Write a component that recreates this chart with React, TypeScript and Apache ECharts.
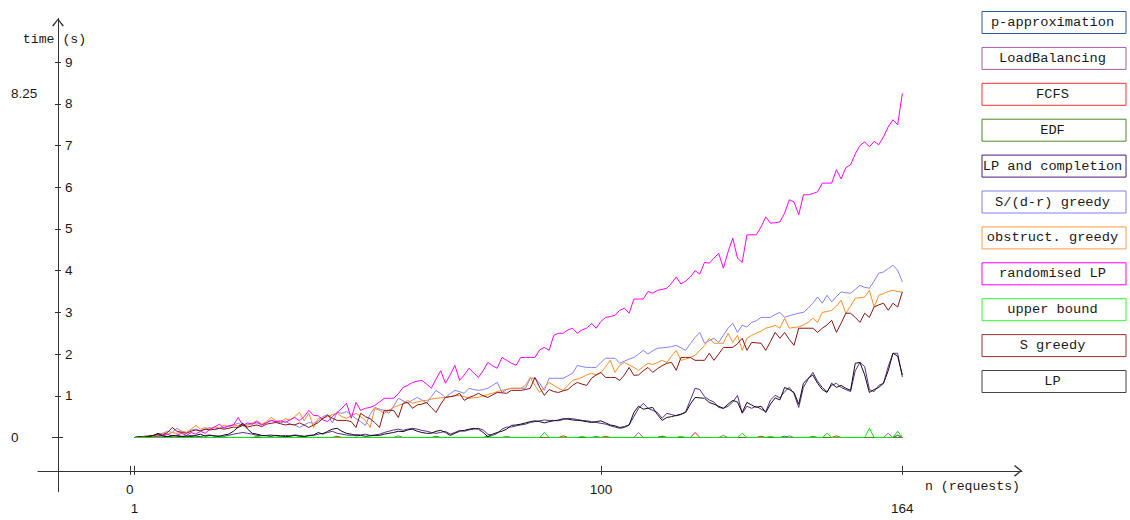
import React, { useEffect, useRef } from "react";
import * as echarts from "echarts";

// ---------- data ----------
const requestCounts: number[] = Array.from({ length: 164 }, (_, i) => i + 1);

const seriesNames = [
  "p-approximation",
  "LoadBalancing",
  "FCFS",
  "EDF",
  "LP and completion",
  "S/(d-r) greedy",
  "obstruct. greedy",
  "randomised LP",
  "upper bound",
  "S greedy",
  "LP",
];

const lineColors = [
  "#2A5C94",
  "#A65C9E",
  "#FF2020",
  "#4A8A20",
  "#5A2A96",
  "#8080FF",
  "#FF8C20",
  "#FF00FF",
  "#00EE00",
  "#8C1414",
  "#111111",
];

const legendBorderColors = [
  "#2A5C94",
  "#A65C9E",
  "#FF3030",
  "#4A8A20",
  "#4B1C80",
  "#8080FF",
  "#FF9A40",
  "#FF00FF",
  "#30FF30",
  "#9C3030",
  "#444444",
];

// drawing order (z) of each series; upper bound sits on top along the zero line
const seriesZ = [2, 2.01, 2.02, 2.03, 2.04, 2.05, 2.06, 2.07, 2.2, 2.09, 2.1];

const xTickValues = [0, 1, 100, 164];
const xLabelRow1 = [0, 100];
const xLabelRow2 = [1, 164];
const yTickValues = [1, 2, 3, 4, 5, 6, 7, 8, 9];
const yZeroTick = [0];
const yOuterLabels = [0, 8.25];

const pApproximation = [
  0,0,0,0,0,0,0,0,0,0,
  0,0,0,0,0,0,0,0,0,0,
  0,0,0,0,0,0,0,0,0,0,
  0,0,0,0,0,0,0,0,0,0,
  0,0,0,0,0,0,0,0,0,0,
  0,0,0,0,0,0,0,0,0,0,
  0,0,0,0,0,0,0,0,0,0,
  0,0,0,0,0,0.03,0,0,0,0,
  0,0,0,0,0,0,0,0,0,0,
  0,0,0,0,0,0,0,0,0.02,0,
  0,0,0,0,0,0,0,0,0,0,
  0,0,0.03,0,0,0,0,0,0,0,
  0,0,0,0,0,0,0,0,0,0,
  0,0,0,0,0,0,0,0,0.03,0,
  0,0,0,0,0,0,0,0,0,0,
  0,0,0,0,0,0,0,0,0,0,
  0,0,0.05,0,
];

const loadBalancing = [
  0,0,0,0,0,0,0,0,0,0,
  0,0,0,0,0,0,0,0,0,0,
  0,0,0,0,0,0,0,0,0,0,
  0,0,0,0,0,0,0,0,0,0,
  0,0,0,0,0,0,0,0,0,0,
  0,0,0,0,0,0,0.04,0,0,0,
  0,0,0,0,0,0,0,0,0,0,
  0,0,0,0,0,0,0,0,0,0.03,
  0,0,0,0,0,0,0,0,0,0,
  0,0,0,0,0,0,0,0,0,0,
  0,0,0,0,0,0,0,0.12,0,0,
  0,0,0,0,0,0,0,0,0,0,
  0,0,0,0,0,0.05,0,0,0,0,
  0,0,0,0,0,0,0,0,0,0.04,
  0,0,0,0,0,0,0,0,0,0,
  0,0,0,0,0,0,0,0,0,0,
  0.1,0,0.06,0,
];

const fcfs = [
  0,0,0,0,0,0,0,0,0,0,
  0,0,0,0,0,0,0,0,0,0,
  0,0,0,0,0,0,0,0,0,0,
  0,0,0,0,0,0,0,0,0,0,
  0,0,0,0.03,0,0,0,0,0,0,
  0,0,0,0,0,0,0,0,0,0,
  0,0,0,0,0,0,0,0,0,0,
  0,0,0,0,0,0,0,0,0,0,
  0,0,0,0,0,0,0,0,0,0,
  0,0.04,0,0,0,0,0,0,0,0,
  0.03,0,0,0,0,0,0,0,0,0,
  0,0,0,0,0,0,0,0,0,0.12,
  0,0,0,0,0,0,0,0,0,0,
  0,0,0,0.03,0,0,0,0,0,0,
  0,0,0,0,0,0,0,0,0,0.04,
  0,0,0,0,0,0,0,0,0,0,
  0,0,0,0,
];

const edf = [
  0,0,0,0,0,0,0,0,0,0,
  0,0,0,0,0,0,0,0,0,0,
  0,0,0,0,0,0,0,0,0,0,
  0,0,0,0,0,0,0,0,0,0,
  0,0,0,0,0,0,0,0,0,0,
  0,0,0,0,0,0,0,0,0,0,
  0,0,0,0,0.03,0,0,0,0,0,
  0,0,0,0,0,0,0,0,0,0,
  0,0,0,0,0,0,0,0,0,0,
  0,0,0,0,0,0,0,0,0,0,
  0,0,0,0,0,0,0,0,0,0,
  0,0,0.03,0,0,0,0,0,0,0,
  0,0,0,0,0,0,0,0,0,0,
  0,0,0,0,0,0,0,0,0,0,
  0,0,0,0,0.03,0,0,0,0,0,
  0,0,0,0,0,0,0,0,0,0,
  0,0,0,0,
];

const lpAndCompletion = [
  0,0,0.01,0.01,0.02,0.04,0.05,0.02,0.03,0.05,
  0.03,0.02,0.05,0.03,0.02,0.05,0.06,0.03,0.04,0.03,
  0.05,0.08,0.1,0.12,0.1,0.08,0.05,0.04,0.05,0.06,
  0.04,0.03,0.05,0.04,0.06,0.05,0.03,0.04,0.05,0.08,
  0.1,0.12,0.15,0.1,0.08,0.06,0.05,0.07,0.06,0.08,
  0.05,0.06,0.08,0.12,0.15,0.18,0.2,0.17,0.2,0.22,
  0.2,0.17,0.15,0.12,0.1,0.12,0.15,0.08,0.12,0.17,
  0.15,0.18,0.2,0.22,0.18,0.08,0.05,0.1,0.2,0.25,
  0.25,0.28,0.3,0.32,0.36,0.38,0.4,0.42,0.41,0.41,
  0.4,0.43,0.46,0.45,0.43,0.41,0.4,0.38,0.36,0.34,
  0.32,0.28,0.25,0.22,0.24,0.3,0.5,0.7,0.82,0.7,
  0.65,0.6,0.46,0.58,0.55,0.52,0.55,0.62,0.9,1.18,
  1.15,0.98,0.9,0.85,0.72,0.7,0.75,0.85,1.01,0.58,
  0.75,0.7,0.75,0.68,0.62,0.9,1.01,0.95,1.1,1.2,
  1.05,0.72,1.2,1.4,1.56,1.35,1.2,1.1,1.25,1.3,
  1.2,1.15,1.1,1.6,1.8,1.7,1.15,1.1,1.25,1.3,
  1.7,2.02,2.02,1.45,
];

const sdrGreedy = [
  0,0.02,0.03,0.05,0.04,0.08,0.1,0.15,0.12,0.22,
  0.15,0.12,0.18,0.2,0.16,0.2,0.24,0.18,0.22,0.25,
  0.28,0.3,0.34,0.28,0.3,0.33,0.35,0.3,0.36,0.41,
  0.38,0.35,0.4,0.32,0.3,0.24,0.3,0.36,0.34,0.4,
  0.5,0.55,0.35,0.6,0.58,0.62,0.55,0.45,0.38,0.29,
  0.55,0.72,0.68,0.65,0.58,0.75,0.94,0.88,0.82,0.9,
  0.96,0.9,0.82,0.98,1.13,1.05,0.96,1.05,1.13,1.1,
  1.06,1.18,1.15,1.13,1.15,1.18,1.25,1.32,1.08,1.15,
  1.18,1.18,1.18,1.18,1.42,1.42,1.3,1.13,1.42,1.42,
  1.42,1.42,1.48,1.54,1.73,1.7,1.68,1.68,1.68,1.8,
  1.9,1.9,1.9,1.78,1.83,1.88,1.92,2.0,2.09,2.0,
  2.08,2.14,2.15,2.16,2.18,2.21,2.15,2.09,2.25,2.4,
  2.52,2.26,2.32,2.38,2.28,2.45,2.62,2.74,2.52,2.69,
  2.65,2.76,2.8,2.88,2.88,2.88,2.95,3.0,2.88,2.92,
  2.95,2.98,3.0,3.1,3.22,3.37,3.22,3.41,3.25,3.38,
  3.49,3.47,3.46,3.55,3.65,3.6,3.58,3.75,3.94,3.97,
  4.05,4.13,4.01,3.73,
];

const obstructGreedy = [
  0,0.01,0.02,0.05,0.03,0.06,0.1,0.08,0.12,0.1,
  0.15,0.12,0.2,0.29,0.2,0.24,0.2,0.26,0.22,0.3,
  0.25,0.3,0.28,0.32,0.3,0.35,0.4,0.32,0.38,0.48,
  0.4,0.38,0.45,0.42,0.5,0.6,0.4,0.58,0.24,0.46,
  0.46,0.5,0.55,0.58,0.5,0.46,0.52,0.58,0.5,0.41,
  0.24,0.7,0.65,0.58,0.65,0.72,0.77,0.8,0.89,0.82,
  0.85,0.88,0.89,0.92,0.94,0.95,0.96,0.98,1.0,1.01,
  0.98,0.94,0.95,0.96,1.0,1.03,1.06,1.1,1.13,1.15,
  1.18,1.18,1.18,1.25,1.44,1.25,1.08,1.2,1.32,1.25,
  1.18,1.13,1.25,1.37,1.4,1.44,1.5,1.54,1.5,1.55,
  1.7,1.85,1.56,1.73,1.8,1.74,1.68,1.61,1.7,1.78,
  1.75,1.8,1.85,1.8,1.95,2.09,1.85,1.88,1.92,1.97,
  2.09,2.2,2.38,2.26,2.26,2.26,2.5,2.28,2.45,2.09,
  2.38,2.45,2.5,2.55,2.62,2.65,2.69,2.62,2.86,2.62,
  2.64,2.65,2.7,2.76,2.86,2.76,3.0,3.02,3.05,3.15,
  3.29,2.98,3.15,3.34,3.35,3.37,3.53,3.13,3.41,3.45,
  3.5,3.53,3.5,3.49,
];

const randomisedLP = [
  0,0.02,0.01,0.03,0.05,0.02,0.04,0.08,0.03,0.06,
  0.1,0.05,0.12,0.08,0.15,0.1,0.2,0.25,0.32,0.22,
  0.28,0.3,0.48,0.29,0.35,0.32,0.38,0.3,0.35,0.41,
  0.38,0.4,0.36,0.42,0.48,0.4,0.5,0.65,0.53,0.52,
  0.42,0.38,0.5,0.6,0.7,0.82,0.46,0.84,0.65,0.7,
  0.72,0.77,0.85,0.94,0.94,0.94,1.05,1.2,1.25,1.32,
  1.35,1.37,1.28,1.18,1.4,1.6,1.3,1.5,1.73,1.37,
  1.5,1.66,1.55,1.44,1.6,1.8,1.72,1.66,1.92,1.85,
  1.78,1.73,1.92,1.92,1.92,1.92,2.1,2.16,2.09,2.45,
  2.5,2.5,2.58,2.62,2.5,2.58,2.62,2.74,2.62,2.78,
  2.88,2.9,2.93,3.05,3.1,2.98,3.32,3.32,3.32,3.5,
  3.46,3.53,3.55,3.58,3.7,3.85,3.68,3.75,3.85,4.0,
  3.92,4.2,4.18,4.3,4.42,4.06,4.45,4.78,4.3,4.2,
  4.86,4.86,4.86,5.05,5.29,5.14,5.15,5.17,5.38,5.7,
  5.65,5.34,5.82,5.82,5.85,5.89,6.1,6.1,6.1,6.42,
  6.2,6.47,6.54,6.8,7.0,7.09,6.97,7.1,7.02,7.21,
  7.45,7.62,7.5,8.25,
];

const upperBound = [
  0,0,0,0,0,0,0,0,0,0,
  0,0,0,0,0,0,0,0,0,0,
  0,0,0,0,0,0,0.03,0,0,0,
  0,0,0,0,0,0,0,0,0,0,
  0,0,0,0,0,0,0,0,0,0,
  0,0,0,0,0,0,0,0,0,0,
  0,0,0,0,0,0,0,0,0,0,
  0,0,0,0,0,0,0,0,0,0,
  0,0,0,0,0,0,0,0.12,0,0,
  0,0,0,0,0,0.03,0,0,0,0,
  0,0,0,0,0,0,0,0,0,0,
  0,0,0,0,0,0,0.03,0,0,0,
  0,0,0,0,0,0,0,0,0,0.1,
  0,0,0,0,0,0.03,0,0,0,0,
  0,0,0,0,0,0,0,0.1,0,0,
  0,0,0,0,0,0,0.22,0,0,0,
  0,0,0.15,0,
];

const sGreedy = [
  0,0.02,0.01,0.03,0.05,0.08,0.06,0.12,0.24,0.15,
  0.12,0.1,0.15,0.18,0.16,0.2,0.18,0.2,0.22,0.2,
  0.22,0.25,0.24,0.29,0.25,0.28,0.3,0.26,0.32,0.34,
  0.36,0.33,0.3,0.32,0.3,0.35,0.3,0.24,0.3,0.36,
  0.46,0.53,0.46,0.41,0.41,0.41,0.38,0.24,0.58,0.5,
  0.45,0.36,0.24,0.65,0.65,0.65,0.48,0.82,0.84,0.7,
  0.78,0.8,0.84,0.72,0.6,0.8,0.96,0.98,1.0,1.06,
  0.89,0.96,1.0,1.06,1.0,0.96,1.02,1.08,1.07,1.06,
  1.13,1.13,1.13,1.15,1.18,1.44,1.2,1.01,1.15,1.1,
  1.08,1.12,1.15,1.25,1.32,1.28,1.25,1.42,1.5,1.56,
  1.44,1.44,1.44,1.37,1.5,1.68,1.49,1.5,1.6,1.68,
  1.56,1.65,1.72,1.78,1.8,1.61,1.92,1.92,1.92,1.85,
  1.85,1.85,2.02,1.85,2.0,2.16,2.16,2.16,2.25,2.38,
  2.09,2.28,2.27,2.26,2.09,2.3,2.52,2.38,2.52,2.35,
  2.21,2.62,2.62,2.62,2.62,2.52,2.62,2.7,2.81,2.52,
  2.74,2.98,2.98,2.88,2.76,2.98,2.88,3.13,3.18,3.22,
  3.05,3.22,3.13,3.49,
];

const lp = [
  0,0.01,0,0.02,0.05,0.1,0.03,0.02,0.05,0.03,
  0.02,0.04,0.02,0.05,0.08,0.03,0.05,0.04,0.02,0.06,
  0.08,0.15,0.25,0.34,0.2,0.1,0.08,0.05,0.04,0.03,
  0.05,0.04,0.02,0.03,0.05,0.03,0.02,0.05,0.06,0.12,
  0.08,0.15,0.2,0.22,0.15,0.1,0.08,0.04,0.05,0.03,
  0.04,0.05,0.05,0.08,0.1,0.12,0.15,0.14,0.18,0.2,
  0.15,0.12,0.1,0.1,0.15,0.17,0.12,0.05,0.1,0.15,
  0.17,0.2,0.22,0.2,0.12,0.02,0.08,0.12,0.15,0.2,
  0.29,0.3,0.32,0.35,0.38,0.4,0.38,0.35,0.38,0.4,
  0.42,0.45,0.44,0.42,0.41,0.4,0.38,0.36,0.38,0.4,
  0.35,0.3,0.28,0.24,0.26,0.3,0.6,0.75,0.68,0.7,
  0.72,0.55,0.41,0.48,0.5,0.53,0.56,0.6,0.8,0.96,
  0.95,0.94,0.84,0.8,0.75,0.7,0.8,0.89,0.85,0.6,
  0.84,0.78,0.72,0.75,0.6,0.8,0.95,0.9,1.2,1.15,
  1.08,0.8,1.3,1.42,1.5,1.3,1.15,1.08,1.3,1.2,
  1.25,1.18,1.13,1.78,1.8,1.5,1.08,1.15,1.2,1.3,
  1.6,2.02,1.95,1.5,
];

const seriesValues = [
  pApproximation,
  loadBalancing,
  fcfs,
  edf,
  lpAndCompletion,
  sdrGreedy,
  obstructGreedy,
  randomisedLP,
  upperBound,
  sGreedy,
  lp,
];

// ---------- layout / style ----------
const X_MIN = -19.5;
const X_MAX = 189.4;
const Y_MIN = -1.3;
const Y_MAX = 10.05;
const AXIS_COLOR = "#333";
const TEXT_COLOR = "#1a1a1a";
const MONO = "'Liberation Mono', 'DejaVu Sans Mono', monospace";
const SANS = "'Liberation Sans', Arial, sans-serif";
const LABEL_SIZE = 13.5;
const ARROW = "path://M5,0 L10,6 L9,6.8 L5,1.6 L1,6.8 L0,6 Z";

function buildOption(): any {
  const baseX = {
    type: "value",
    min: X_MIN,
    max: X_MAX,
    position: "bottom",
    offset: -20.9,
    splitLine: { show: false },
  };
  const baseY = {
    type: "value",
    min: Y_MIN,
    max: Y_MAX,
    position: "left",
    offset: -20,
    splitLine: { show: false },
  };

  const legendGraphics: any[] = [];
  seriesNames.forEach((name, i) => {
    const top = 11 + i * 35.9;
    legendGraphics.push({
      type: "rect",
      left: 981.5,
      top,
      shape: { x: 0, y: 0, width: 144, height: 22 },
      style: { fill: "#fff", stroke: legendBorderColors[i], lineWidth: 1 },
      silent: true,
    });
    legendGraphics.push({
      type: "text",
      x: 1052.5,
      y: top + 11.5,
      style: {
        text: name,
        fill: TEXT_COLOR,
        font: `13.7px ${MONO}`,
        textAlign: "center",
        textVerticalAlign: "middle",
      },
      silent: true,
    });
  });

  return {
    animation: false,
    backgroundColor: "#fff",
    grid: {
      left: 38,
      top: 18.4,
      width: 984,
      height: 473.3,
      containLabel: false,
      outerBoundsMode: "none",
    },
    xAxis: [
      {
        ...baseX,
        axisLine: {
          show: true,
          onZero: false,
          lineStyle: { color: AXIS_COLOR, width: 1 },
          symbol: ["none", ARROW],
          symbolSize: [12, 8],
          symbolOffset: [0, -4],
        },
        axisTick: {
          show: true,
          inside: true,
          length: 5,
          customValues: xTickValues,
          lineStyle: { color: AXIS_COLOR },
        },
        axisLabel: {
          show: true,
          customValues: xLabelRow1,
          margin: 12,
          color: TEXT_COLOR,
          fontSize: LABEL_SIZE,
          fontFamily: SANS,
        },
        name: "n (requests)",
        nameLocation: "end",
        nameGap: -2,
        nameMoveOverlap: false,
        nameTextStyle: {
          color: TEXT_COLOR,
          fontFamily: MONO,
          fontSize: 13.2,
          align: "right",
          verticalAlign: "top",
          padding: [9, 0, 0, 0],
        },
      },
      {
        ...baseX,
        axisLine: { show: false, onZero: false },
        axisTick: {
          show: true,
          inside: false,
          length: 4,
          customValues: xTickValues,
          lineStyle: { color: AXIS_COLOR },
        },
        axisLabel: {
          show: true,
          customValues: xLabelRow2,
          margin: 31,
          color: TEXT_COLOR,
          fontSize: LABEL_SIZE,
          fontFamily: SANS,
        },
      },
    ],
    yAxis: [
      {
        ...baseY,
        axisLine: {
          show: true,
          onZero: false,
          lineStyle: { color: AXIS_COLOR, width: 1 },
          symbol: ["none", ARROW],
          symbolSize: [12, 8],
          symbolOffset: [0, -4],
        },
        axisTick: {
          show: true,
          inside: true,
          length: 3,
          customValues: yTickValues,
          lineStyle: { color: AXIS_COLOR },
        },
        axisLabel: {
          show: true,
          inside: true,
          customValues: yTickValues,
          margin: 7,
          color: TEXT_COLOR,
          fontSize: LABEL_SIZE,
          fontFamily: SANS,
        },
        name: "time (s)",
        nameLocation: "end",
        nameGap: -21.4,
        nameMoveOverlap: false,
        nameTextStyle: {
          color: TEXT_COLOR,
          fontFamily: MONO,
          fontSize: 13.2,
          align: "center",
          verticalAlign: "middle",
          padding: [0, 7, 0, 0],
        },
      },
      {
        ...baseY,
        axisLine: { show: false, onZero: false },
        axisTick: {
          show: true,
          inside: false,
          length: 3,
          customValues: yTickValues,
          lineStyle: { color: AXIS_COLOR },
        },
        axisLabel: {
          show: true,
          customValues: yOuterLabels,
          margin: 47,
          align: "left",
          color: TEXT_COLOR,
          fontSize: LABEL_SIZE,
          fontFamily: SANS,
        },
      },
      {
        ...baseY,
        axisLine: { show: false, onZero: false },
        axisTick: {
          show: true,
          inside: true,
          length: 5,
          customValues: yZeroTick,
          lineStyle: { color: AXIS_COLOR },
        },
        axisLabel: { show: false },
      },
      {
        ...baseY,
        axisLine: { show: false, onZero: false },
        axisTick: {
          show: true,
          inside: false,
          length: 6,
          customValues: yZeroTick,
          lineStyle: { color: AXIS_COLOR },
        },
        axisLabel: { show: false },
      },
    ],
    series: seriesNames.map((name, i) => ({
      name,
      type: "line",
      xAxisIndex: 0,
      yAxisIndex: 0,
      data: seriesValues[i].map((v, j) => [requestCounts[j], v]),
      showSymbol: false,
      symbol: "none",
      silent: true,
      lineStyle: { width: 1, color: lineColors[i] },
      itemStyle: { color: lineColors[i] },
      z: seriesZ[i],
    })),
    graphic: legendGraphics,
  };
}

export default function App() {
  const ref = useRef<HTMLDivElement>(null);
  useEffect(() => {
    if (!ref.current) return;
    const chart = echarts.init(ref.current, undefined, { renderer: "svg" });
    chart.setOption(buildOption());
    return () => {
      chart.dispose();
    };
  }, []);
  return (
    <div
      ref={ref}
      style={{ position: "fixed", left: 0, top: 0, width: 1130, height: 520, background: "#fff" }}
    />
  );
}
